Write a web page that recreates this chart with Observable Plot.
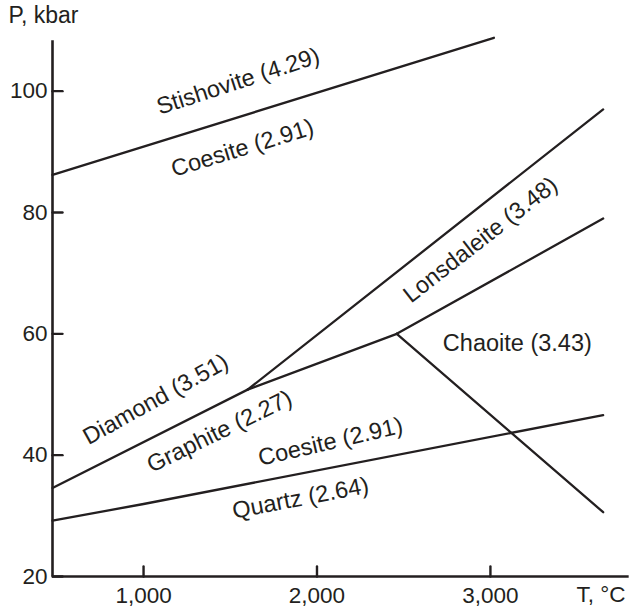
<!DOCTYPE html>
<html>
<head>
<meta charset="utf-8">
<script src="https://cdn.jsdelivr.net/npm/d3@7"></script>
<script src="https://cdn.jsdelivr.net/npm/@observablehq/plot@0.6"></script>
<style>
  html, body { margin: 0; padding: 0; background: #fff; }
</style>
</head>
<body>
<div id="chart"></div>
<script>
// Tick values
const xTicks = [1000, 2000, 3000];
const yTicks = [20, 40, 60, 80, 100];

// Phase boundaries: [T (°C), P (kbar)]
const stishoviteCoesite = [[475, 86.2], [3020, 108.8]];
const diamondGraphite = [[475, 34.6], [1600, 50.8]];
const diamondLonsdaleite = [[1600, 50.8], [3650, 97.0]];
const graphiteLonsdaleite = [[1600, 50.8], [2460, 60.0]];
const lonsdaleiteChaoite = [[2460, 60.0], [3650, 79.0]];
const graphiteChaoite = [[2460, 60.0], [3650, 30.6]];
const quartzCoesite = [[475, 29.2], [1000, 31.95], [3650, 46.6]];

// Region labels: [text, T, P]
const regionLabels = [
  ["Stishovite (4.29)", 1545, 101.6],
  ["Coesite (2.91)", 1570, 90.6],
  ["Lonsdaleite (3.48)", 2942, 75.5],
  ["Chaoite (3.43)", 3155, 58.4],
  ["Diamond (3.51)", 1070, 49.2],
  ["Graphite (2.27)", 1438, 43.9],
  ["Coesite (2.91)", 2078, 42.2],
  ["Quartz (2.64)", 1905, 32.9]
];
const labelAngles = [-18, -17, -38, 0, -29, -26, -13, -11];

const segments = [
  stishoviteCoesite, diamondGraphite, diamondLonsdaleite, graphiteLonsdaleite,
  lonsdaleiteChaoite, graphiteChaoite, quartzCoesite
];
const lineData = segments.flatMap((seg, i) => seg.map(([T, P]) => ({seg: i, T, P})));
const labelData = regionLabels.map(([text, T, P], i) => ({text, T, P, angle: labelAngles[i]}));

const ink = "#231f20";
const tickShape = {draw(context, l) { context.moveTo(0, 0); context.lineTo(0, -l); }};

const chart = Plot.plot({
  width: 629,
  height: 611,
  marginLeft: 52,
  marginRight: 9,
  marginTop: 30,
  marginBottom: 35,
  x: {domain: [475, 3750]},
  y: {domain: [20, 110]},
  style: {fontFamily: "'Liberation Sans', Arial, sans-serif", fontSize: "22px", color: ink, background: "#fff"},
  marks: [
    Plot.axisY(yTicks, {tickSize: 0, tickPadding: 5, fill: ink, label: null, fontSize: 22.5}),
    Plot.axisX(xTicks, {tickSize: 0, tickPadding: 11, fill: ink, label: null, tickFormat: d3.format(","), fontSize: 22.5}),
    Plot.vector(yTicks, {x: 475, y: d => d, length: 10, rotate: 90, anchor: "start", shape: tickShape, stroke: ink, strokeWidth: 2.4}),
    Plot.vector(xTicks, {x: d => d, y: 20, length: 10, rotate: 0, anchor: "start", shape: tickShape, stroke: ink, strokeWidth: 2.4}),
    Plot.ruleY([20], {x1: 475, x2: 3800, stroke: ink, strokeWidth: 2.6, clip: false}),
    Plot.ruleX([475], {y1: 20, y2: 108.3, stroke: ink, strokeWidth: 2.6}),
    Plot.line(lineData, {x: "T", y: "P", z: "seg", stroke: ink, strokeWidth: 2.3}),
    ...labelData.map(d => Plot.text([d], {x: "T", y: "P", text: "text", rotate: d.angle, fill: ink, fontSize: 23.5})),
    Plot.text(["P, kbar"], {frameAnchor: "top-left", text: d => d, dx: -44, dy: -24, textAnchor: "start", fill: ink, fontSize: 23}),
    Plot.text(["T, °C"], {frameAnchor: "bottom-right", text: d => d, dx: 5, dy: 25, textAnchor: "end", fill: ink, fontSize: 22.5})
  ]
});
document.getElementById("chart").appendChild(chart);
</script>
</body>
</html>
